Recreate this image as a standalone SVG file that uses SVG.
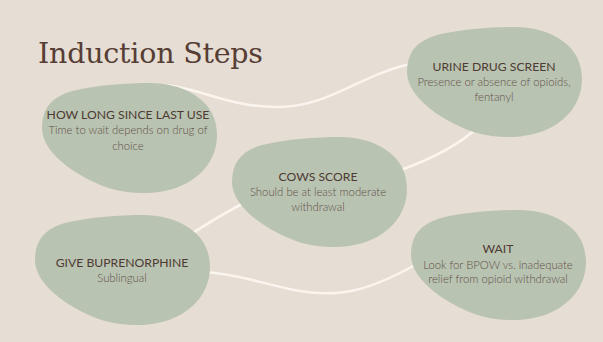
<svg xmlns="http://www.w3.org/2000/svg" width="603" height="342" viewBox="0 0 603 342">
<style>
.bg{fill:#E6DDD4}
.blob{fill:#B9C3B1}
.conn{fill:none;stroke:#FBF5EF;stroke-width:2.5;stroke-linecap:round}
.title{font-family:"DejaVu Serif","Liberation Serif",serif;font-weight:300;font-size:28.5px;fill:#573E35}
.h{font-family:Lato,"Liberation Sans",sans-serif;font-size:12.2px;fill:#4E3A33;text-anchor:middle}
.s{font-family:Lato,"Liberation Sans",sans-serif;font-weight:300;font-size:11.3px;fill:#62514A;text-anchor:middle}
</style>
<defs>
<path id="blobShape" d="M0,45 C0,25 10,14 30,8 C55,2 85,0 108,0 C140,0 165,15 172,35 C180,58 172,85 145,100 C125,111 95,113 70,106 C40,97 0,72 0,45 Z"/>
</defs>
<rect class="bg" x="0" y="0" width="603" height="342"/>
<text class="title" x="38" y="63" textLength="225">Induction Steps</text>
<g id="connectors">
<path class="conn" d="M165,85 C200,88 230,108 280,107 C330,106 360,75 410,64"/>
<path class="conn" d="M480,125 C460,145 430,160 395,172"/>
<path class="conn" d="M250,200 C225,212 205,225 185,238"/>
<path class="conn" d="M205,272 C240,274 265,285 300,291 C340,298 370,290 415,265"/>
</g>
<g id="node-how-long">
<use href="#blobShape" class="blob" x="42" y="83"/>
<text class="h" x="128" y="119">HOW LONG SINCE LAST USE</text>
<text class="s" x="128" y="134">Time to wait depends on drug of</text>
<text class="s" x="128" y="150">choice</text>
</g>
<g id="node-urine">
<use href="#blobShape" class="blob" x="407" y="27"/>
<text class="h" x="494" y="71">URINE DRUG SCREEN</text>
<text class="s" x="494" y="86">Presence or absence of opioids,</text>
<text class="s" x="494" y="101">fentanyl</text>
</g>
<g id="node-cows">
<use href="#blobShape" class="blob" x="232" y="137"/>
<text class="h" x="318" y="181">COWS SCORE</text>
<text class="s" x="318" y="196">Should be at least moderate</text>
<text class="s" x="318" y="211">withdrawal</text>
</g>
<g id="node-give">
<use href="#blobShape" class="blob" x="35" y="215"/>
<text class="h" x="122" y="267">GIVE BUPRENORPHINE</text>
<text class="s" x="122" y="282">Sublingual</text>
</g>
<g id="node-wait">
<use href="#blobShape" class="blob" x="411" y="210"/>
<text class="h" x="498" y="253">WAIT</text>
<text class="s" x="498" y="269">Look for BPOW vs. inadequate</text>
<text class="s" x="498" y="283">relief from opioid withdrawal</text>
</g>
</svg>
